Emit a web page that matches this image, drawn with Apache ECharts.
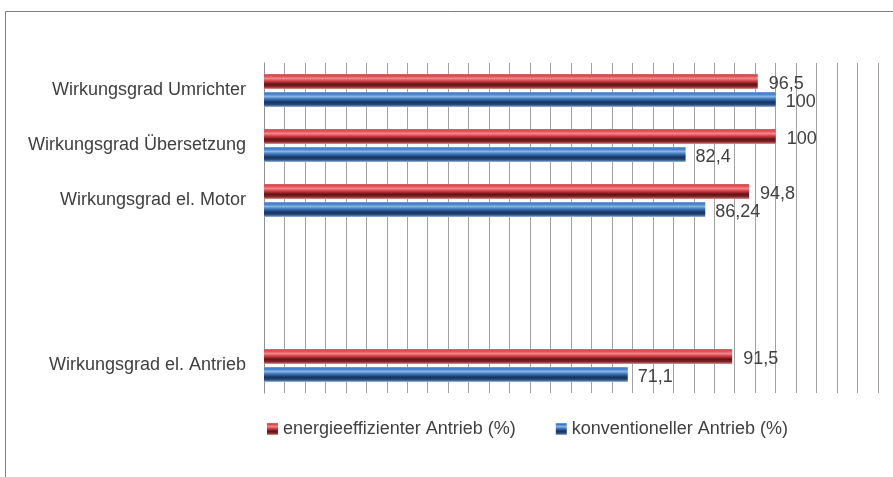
<!DOCTYPE html>
<html>
<head>
<meta charset="utf-8">
<script src="https://cdn.jsdelivr.net/npm/echarts@6/dist/echarts.min.js"></script>
<style>
html,body{margin:0;padding:0;background:#fff;}
#chart{width:893px;height:477px;}
</style>
</head>
<body>
<div id="chart"></div>
<script>
var categories = ['Wirkungsgrad Umrichter', 'Wirkungsgrad Übersetzung', 'Wirkungsgrad el. Motor', '', '', 'Wirkungsgrad el. Antrieb'];
var seriesNames = ['energieeffizienter Antrieb (%)', 'konventioneller Antrieb (%)'];
var effizient = [96.5, 100, 94.8, null, null, 91.5];
var konventionell = [100, 82.4, 86.24, null, null, 71.1];

var FONT = 'Liberation Sans';

function grad(stops) {
  return new echarts.graphic.LinearGradient(0, 0, 0, 1, stops.map(function (s) { return { offset: s[0], color: s[1] }; }));
}
var redGrad = grad([[0, '#d0686b'], [0.12, '#e0444a'], [0.3, '#f0868a'], [0.48, '#d33a40'], [0.68, '#5c1315'], [0.86, '#87282b'], [1, '#e09a9c']]);
var blueGrad = grad([[0, '#7aa6dc'], [0.12, '#3a79c6'], [0.3, '#88b3e6'], [0.48, '#3771b8'], [0.68, '#15325a'], [0.86, '#2a4f80'], [1, '#a2bfe4']]);

function fmt(p) { return String(p.value).replace('.', ','); }

var chart = echarts.init(document.getElementById('chart'), null, { renderer: 'canvas' });
chart.setOption({
  animation: false,
  backgroundColor: '#ffffff',
  textStyle: { fontFamily: FONT },
  graphic: [{
    type: 'polyline',
    shape: { points: [[5.5, 477], [5.5, 11.5], [893, 11.5]] },
    style: { stroke: '#7f7f7f', lineWidth: 1, fill: null }
  }],
  legend: {
    left: 262,
    top: 415,
    itemWidth: 11,
    itemHeight: 12,
    itemGap: 40,
    icon: 'rect',
    textStyle: { fontFamily: FONT, fontSize: 18, color: '#404040' },
    data: seriesNames
  },
  grid: { left: 264, top: 63, width: 614, height: 330, containLabel: false },
  xAxis: {
    type: 'value',
    min: 0,
    max: 120,
    interval: 4,
    axisLabel: { show: false },
    axisLine: { show: false },
    axisTick: { show: false },
    splitLine: { show: true, lineStyle: { color: '#a0a0a0', width: 1 } }
  },
  yAxis: {
    type: 'category',
    inverse: true,
    data: categories,
    axisLine: { show: true, lineStyle: { color: '#909090' } },
    axisTick: { show: false },
    axisLabel: { fontFamily: FONT, fontSize: 18, color: '#404040', margin: 18, padding: [4, 0, 0, 0] }
  },
  series: [{
    name: seriesNames[0],
    type: 'bar',
    data: effizient,
    barWidth: 15,
    barGap: '20%',
    itemStyle: { color: redGrad },
    label: { show: true, position: 'right', distance: 11, offset: [0, 3], formatter: fmt, fontFamily: FONT, fontSize: 18, color: '#404040' }
  }, {
    name: seriesNames[1],
    type: 'bar',
    data: konventionell,
    barWidth: 15,
    barGap: '20%',
    itemStyle: { color: blueGrad },
    label: { show: true, position: 'right', distance: 10, offset: [0, 3], formatter: fmt, fontFamily: FONT, fontSize: 18, color: '#404040' }
  }]
});
</script>
</body>
</html>
